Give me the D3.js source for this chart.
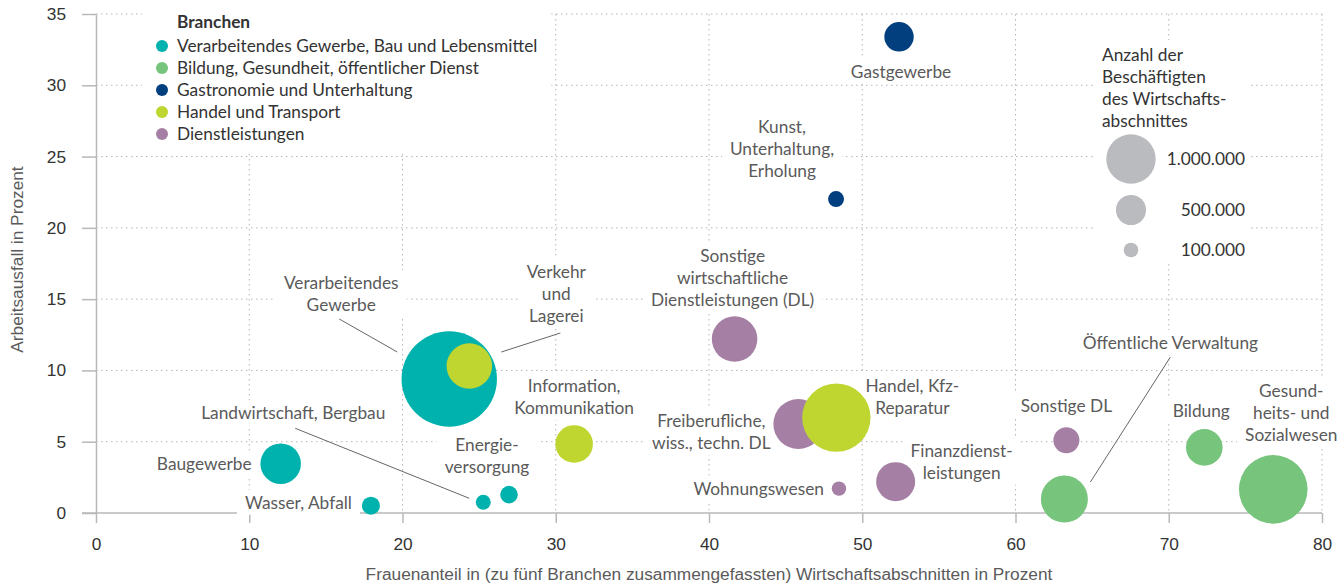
<!DOCTYPE html>
<html>
<head>
<meta charset="utf-8">
<script src="https://cdn.jsdelivr.net/npm/d3@7"></script>
<style>
  body { margin: 0; background: #fff; }
  svg { font-family: "Source Sans Pro", Lato, sans-serif; }
</style>
</head>
<body>
<div id="chart"></div>
<script>
// Branchen (legend order)
const branchen = [
  "Verarbeitendes Gewerbe, Bau und Lebensmittel",
  "Bildung, Gesundheit, öffentlicher Dienst",
  "Gastronomie und Unterhaltung",
  "Handel und Transport",
  "Dienstleistungen"
];
const branchenColors = ["#00b2ad", "#77c47c", "#023f7e", "#bed62f", "#a580a4"];

// Wirtschaftsabschnitte
const sectors = [
  "Verarbeitendes Gewerbe", "Baugewerbe", "Wasser, Abfall", "Landwirtschaft, Bergbau", "Energieversorgung",
  "Öffentliche Verwaltung", "Bildung", "Gesundheits- und Sozialwesen",
  "Gastgewerbe", "Kunst, Unterhaltung, Erholung",
  "Sonstige wirtschaftliche DL", "Freiberufliche, wiss., techn. DL", "Wohnungswesen", "Finanzdienstleistungen", "Sonstige DL",
  "Verkehr und Lagerei", "Information, Kommunikation", "Handel, Kfz-Reparatur"
];
const sectorBranche = [0, 0, 0, 0, 0, 1, 1, 1, 2, 2, 4, 4, 4, 4, 4, 3, 3, 3];
const frauenanteil = [23.05, 12.05, 17.94, 25.27, 26.95, 63.19, 72.32, 76.82, 52.4, 48.29, 41.67, 45.83, 48.48, 52.18, 63.32, 24.36, 31.2, 48.31];
const arbeitsausfall = [9.4, 3.46, 0.51, 0.75, 1.29, 0.98, 4.6, 1.66, 33.4, 22.02, 12.2, 6.24, 1.71, 2.2, 5.1, 10.31, 4.84, 6.69];
const beschaeftigte = [2190000, 770000, 188000, 110000, 178000, 938000, 669000, 1497000, 483000, 136000, 900000, 1015000, 95000, 731000, 395000, 900000, 695000, 1491000];

const xTicks = [0, 10, 20, 30, 40, 50, 60, 70, 80];
const yTicks = [0, 5, 10, 15, 20, 25, 30, 35];
const sizeLegendValues = [1000000, 500000, 100000];
const sizeLegendLabels = ["1.000.000", "500.000", "100.000"];

// label placement relative to bubble centre (pixels)
const labelLayout = {
  "Verarbeitendes Gewerbe": { lines: ["Verarbeitendes", "Gewerbe"], anchor: "middle", dx: -108, dy: -96, leader: [[-110, -60], [-52, -27]] },
  "Baugewerbe": { lines: ["Baugewerbe"], anchor: "end", dx: -29, dy: 0 },
  "Wasser, Abfall": { lines: ["Wasser, Abfall"], anchor: "end", dx: -19, dy: -3 },
  "Landwirtschaft, Bergbau": { lines: ["Landwirtschaft, Bergbau"], anchor: "middle", dx: -190, dy: -89, leader: [[-188, -74], [-14, -4]] },
  "Energieversorgung": { lines: ["Energie-", "versorgung"], anchor: "middle", dx: -22, dy: -50 },
  "Öffentliche Verwaltung": { lines: ["Öffentliche Verwaltung"], anchor: "middle", dx: 106, dy: -156, leader: [[106, -142], [26, -17]] },
  "Bildung": { lines: ["Bildung"], anchor: "middle", dx: -3, dy: -36 },
  "Gesundheits- und Sozialwesen": { lines: ["Gesund-", "heits- und", "Sozialwesen"], anchor: "middle", dx: 18, dy: -98 },
  "Gastgewerbe": { lines: ["Gastgewerbe"], anchor: "middle", dx: 2, dy: 35 },
  "Kunst, Unterhaltung, Erholung": { lines: ["Kunst,", "Unterhaltung,", "Erholung"], anchor: "middle", dx: -54, dy: -72 },
  "Sonstige wirtschaftliche DL": { lines: ["Sonstige", "wirtschaftliche", "Dienstleistungen (DL)"], anchor: "middle", dx: -2, dy: -83 },
  "Freiberufliche, wiss., techn. DL": { lines: ["Freiberufliche,", "wiss., techn. DL"], anchor: "middle", dx: -87, dy: -3 },
  "Wohnungswesen": { lines: ["Wohnungswesen"], anchor: "end", dx: -15, dy: 0 },
  "Finanzdienstleistungen": { lines: ["Finanzdienst-", "leistungen"], anchor: "middle", dx: 66, dy: -31 },
  "Sonstige DL": { lines: ["Sonstige DL"], anchor: "middle", dx: 0, dy: -34 },
  "Verkehr und Lagerei": { lines: ["Verkehr", "und", "Lagerei"], anchor: "middle", dx: 87, dy: -94, leader: [[91, -33], [32, -14]] },
  "Information, Kommunikation": { lines: ["Information,", "Kommunikation"], anchor: "middle", dx: 0, dy: -58 },
  "Handel, Kfz-Reparatur": { lines: ["Handel, Kfz-", "Reparatur"], anchor: "middle", dx: 76, dy: -32 }
};

const width = 1342, height = 585;
const marginTop = 14, marginRight = 20, marginBottom = 72, marginLeft = 96;
const fontSize = 17.3, lineHeight = 22;
const gridColor = "#b5b5b5", axisColor = "#b8b8b8", labelColor = "#5a5a5a", textColor = "#333";

const xScale = d3.scaleLinear([0, 80], [marginLeft, width - marginRight]);
const yScale = d3.scaleLinear([0, 35], [height - marginBottom, marginTop]);
const rScale = d3.scaleLinear([100000, 1000000], [7.3, 24.7]);
const color = i => branchenColors[sectorBranche[i]];

const svg = d3.select("#chart").append("svg")
  .attr("width", width)
  .attr("height", height)
  .attr("viewBox", [0, 0, width, height]);

// grid
svg.append("g")
  .selectAll("line")
  .data(yTicks.filter(d => d > 0))
  .join("line")
  .attr("x1", marginLeft).attr("x2", width - marginRight)
  .attr("y1", d => yScale(d)).attr("y2", d => yScale(d))
  .attr("stroke", gridColor).attr("stroke-dasharray", "1.5 3.5");
svg.append("g")
  .selectAll("line")
  .data(xTicks.filter(d => d > 0))
  .join("line")
  .attr("x1", d => xScale(d)).attr("x2", d => xScale(d))
  .attr("y1", marginTop).attr("y2", yScale(0))
  .attr("stroke", gridColor).attr("stroke-dasharray", "1.5 3.5");

// axes
svg.append("g")
  .attr("transform", `translate(0,${yScale(0)})`)
  .call(d3.axisBottom(xScale).tickValues(xTicks).tickSize(10).tickSizeOuter(0).tickPadding(15))
  .call(g => g.select(".domain").attr("stroke", axisColor).attr("stroke-width", 1.5).attr("d", `M${marginLeft - 14},0H${width - marginRight}`))
  .call(g => g.selectAll(".tick line").attr("stroke", axisColor).attr("stroke-width", 1.5))
  .call(g => g.selectAll(".tick text").attr("font-size", fontSize).attr("fill", textColor).attr("font-family", null))
  .call(g => g.append("text")
    .attr("x", (marginLeft + width - marginRight) / 2)
    .attr("y", 67)
    .attr("fill", labelColor)
    .attr("font-size", fontSize)
    .attr("text-anchor", "middle")
    .text("Frauenanteil in (zu fünf Branchen zusammengefassten) Wirtschaftsabschnitten in Prozent"));

svg.append("g")
  .attr("transform", `translate(${marginLeft},0)`)
  .call(d3.axisLeft(yScale).tickValues(yTicks).tickSize(14).tickSizeOuter(0).tickPadding(16))
  .call(g => g.select(".domain").attr("stroke", axisColor).attr("stroke-width", 1.5))
  .call(g => g.selectAll(".tick line").attr("stroke", axisColor).attr("stroke-width", 1.5))
  .call(g => g.selectAll(".tick text").attr("font-size", fontSize).attr("fill", textColor).attr("font-family", null))
  .call(g => g.append("text")
    .attr("transform", `translate(${-marginLeft + 23},${(marginTop + yScale(0)) / 2 - 4}) rotate(-90)`)
    .attr("fill", labelColor)
    .attr("font-size", fontSize)
    .attr("text-anchor", "middle")
    .text("Arbeitsausfall in Prozent"));

// white boxes behind text so the grid breaks around it
function backdrop(g, padX, padY) {
  const b = g.node().getBBox();
  g.insert("rect", ":first-child")
    .attr("x", b.x - padX).attr("y", b.y - padY)
    .attr("width", b.width + 2 * padX).attr("height", b.height + 2 * padY)
    .attr("fill", "#fff");
}

const I = d3.range(sectors.length);

// labels
const labels = svg.append("g")
  .attr("font-size", fontSize)
  .attr("fill", labelColor);
I.forEach(i => {
  const L = labelLayout[sectors[i]];
  const cx = xScale(frauenanteil[i]), cy = yScale(arbeitsausfall[i]);
  const g = labels.append("g");
  const t = g.append("text").attr("text-anchor", L.anchor);
  L.lines.forEach((line, k) => {
    t.append("tspan")
      .attr("x", cx + L.dx)
      .attr("y", cy + L.dy + k * lineHeight)
      .attr("dy", "0.35em")
      .text(line);
  });
  backdrop(g, 8, 2);
});

// leader lines
svg.append("g")
  .attr("stroke", "#666")
  .attr("stroke-width", 1)
  .selectAll("line")
  .data(I.filter(i => labelLayout[sectors[i]].leader))
  .join("line")
  .attr("x1", i => xScale(frauenanteil[i]) + labelLayout[sectors[i]].leader[0][0])
  .attr("y1", i => yScale(arbeitsausfall[i]) + labelLayout[sectors[i]].leader[0][1])
  .attr("x2", i => xScale(frauenanteil[i]) + labelLayout[sectors[i]].leader[1][0])
  .attr("y2", i => yScale(arbeitsausfall[i]) + labelLayout[sectors[i]].leader[1][1]);

// bubbles
svg.append("g")
  .selectAll("circle")
  .data(I)
  .join("circle")
  .attr("cx", i => xScale(frauenanteil[i]))
  .attr("cy", i => yScale(arbeitsausfall[i]))
  .attr("r", i => rScale(beschaeftigte[i]))
  .attr("fill", color);

// colour legend
const legend = svg.append("g")
  .attr("transform", "translate(177,22)")
  .attr("font-size", fontSize)
  .attr("fill", textColor);
legend.append("text")
  .attr("dy", "0.35em")
  .attr("font-weight", "bold")
  .text("Branchen");
branchen.forEach((b, k) => {
  legend.append("circle")
    .attr("cx", -15).attr("cy", 24 + k * lineHeight)
    .attr("r", 6)
    .attr("fill", branchenColors[k]);
  legend.append("text")
    .attr("y", 24 + k * lineHeight)
    .attr("dy", "0.35em")
    .text(b);
});
backdrop(legend, 14, 8);

// size legend
const sizeLegend = svg.append("g")
  .attr("font-size", fontSize)
  .attr("fill", textColor);
["Anzahl der", "Beschäftigten", "des Wirtschafts-", "abschnittes"].forEach((line, k) => {
  sizeLegend.append("text")
    .attr("x", 1102)
    .attr("y", 55 + k * lineHeight)
    .attr("dy", "0.35em")
    .text(line);
});
const sizeY = [159, 210, 250];
sizeLegendValues.forEach((v, k) => {
  sizeLegend.append("circle")
    .attr("cx", 1131).attr("cy", sizeY[k])
    .attr("r", rScale(v))
    .attr("fill", "#babbbf");
  sizeLegend.append("text")
    .attr("x", 1245).attr("y", sizeY[k])
    .attr("dy", "0.35em")
    .attr("text-anchor", "end")
    .text(sizeLegendLabels[k]);
});
backdrop(sizeLegend, 6, 4);
</script>
</body>
</html>
